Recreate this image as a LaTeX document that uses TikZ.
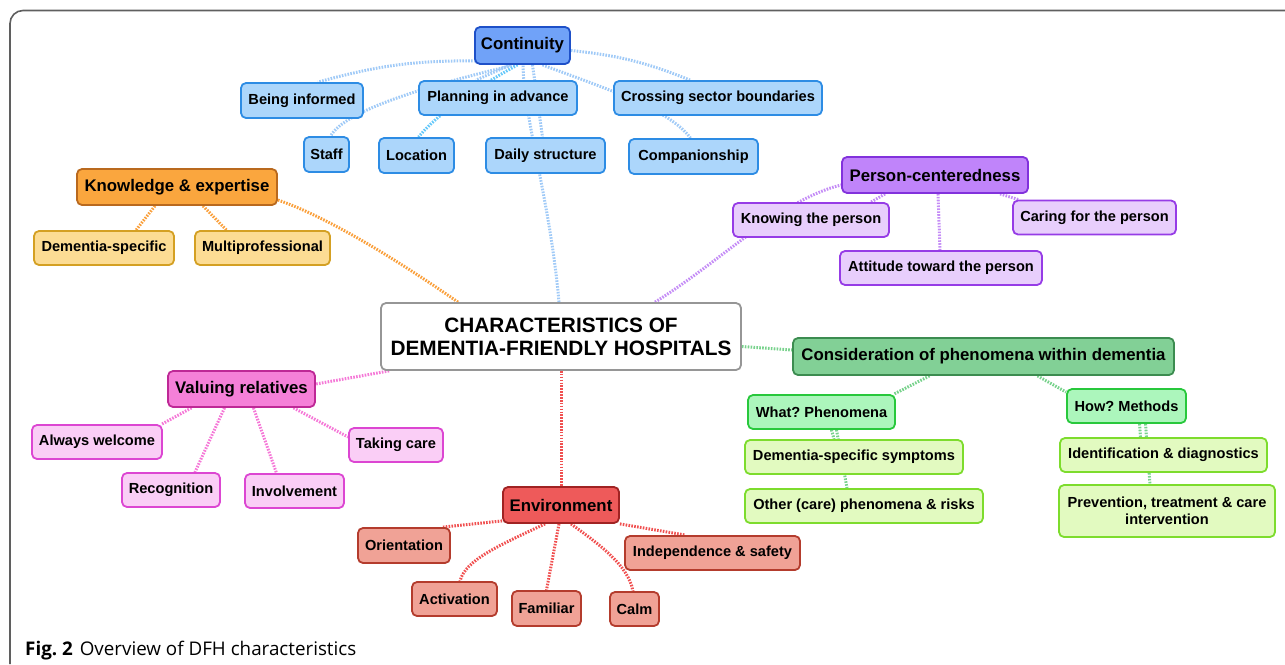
\documentclass[tikz,border=0pt]{standalone}
\usepackage{fontspec}
\setmainfont{Liberation Sans}
\newfontfamily\capfont{Open Sans}
\usetikzlibrary{calc}
\pgfdeclarelayer{bg}
\pgfsetlayers{bg,main}
\frenchspacing
% colours
\definecolor{cBf}{RGB}{112,162,248}\definecolor{cBd}{RGB}{30,80,200}
\definecolor{lBf}{RGB}{172,214,251}\definecolor{lBd}{RGB}{45,140,228}
\definecolor{kBl}{RGB}{160,202,247}\definecolor{kCy}{RGB}{100,200,250}
\definecolor{cOf}{RGB}{250,166,62}\definecolor{cOd}{RGB}{185,105,30}
\definecolor{lOf}{RGB}{252,220,148}\definecolor{lOd}{RGB}{212,160,35}
\definecolor{kOr}{RGB}{250,160,60}
\definecolor{cPf}{RGB}{192,132,250}\definecolor{cPd}{RGB}{130,50,220}
\definecolor{lPf}{RGB}{232,206,252}\definecolor{lPd}{RGB}{150,60,230}
\definecolor{kPu}{RGB}{196,140,246}
\definecolor{cGf}{RGB}{130,208,150}\definecolor{cGd}{RGB}{60,140,80}
\definecolor{mGf}{RGB}{172,246,188}\definecolor{mGd}{RGB}{40,200,60}
\definecolor{lGf}{RGB}{226,250,192}\definecolor{lGd}{RGB}{125,220,45}
\definecolor{kGr}{RGB}{120,210,140}
\definecolor{cKf}{RGB}{245,128,216}\definecolor{cKd}{RGB}{190,40,150}
\definecolor{lKf}{RGB}{250,206,246}\definecolor{lKd}{RGB}{220,70,210}
\definecolor{kPk}{RGB}{245,120,215}
\definecolor{cRf}{RGB}{238,90,90}\definecolor{cRd}{RGB}{160,35,35}
\definecolor{lRf}{RGB}{240,162,150}\definecolor{lRd}{RGB}{180,60,45}
\definecolor{kRd}{RGB}{240,80,80}
\definecolor{frame}{RGB}{95,95,95}
\definecolor{cenB}{RGB}{150,150,150}
\tikzset{
  box/.style={rounded corners=5pt, line width=1.8pt, inner xsep=2pt, inner ysep=2pt,
    align=center, text=black, font=\bfseries\fontsize{14.6}{17.5}\selectfont},
  head/.style={box, minimum height=36pt, font=\bfseries\fontsize{16.8}{20}\selectfont},
  leaf/.style={box, minimum height=34pt},
  hB/.style={head, fill=cBf, draw=cBd}, lB/.style={leaf, fill=lBf, draw=lBd},
  hO/.style={head, fill=cOf, draw=cOd}, lO/.style={leaf, fill=lOf, draw=lOd},
  hP/.style={head, fill=cPf, draw=cPd}, lP/.style={leaf, fill=lPf, draw=lPd},
  hG/.style={head, fill=cGf, draw=cGd}, mG/.style={leaf, fill=mGf, draw=mGd},
  lG/.style={leaf, fill=lGf, draw=lGd},
  hK/.style={head, fill=cKf, draw=cKd}, lK/.style={leaf, fill=lKf, draw=lKd},
  hR/.style={head, fill=cRf, draw=cRd}, lR/.style={leaf, fill=lRf, draw=lRd},
  conn/.style={line width=3pt, dash pattern=on 1.6pt off 1.3pt},
  cb/.style={conn, draw=kBl}, cy/.style={conn, draw=kCy},
  co/.style={conn, draw=kOr}, cp/.style={conn, draw=kPu},
  cg/.style={conn, draw=kGr}, ck/.style={conn, draw=kPk}, cr/.style={conn, draw=kRd}
}
\begin{document}
\begin{tikzpicture}[x=1pt,y=-1pt]
\useasboundingbox (0,0) rectangle (1285,664);
\draw[frame, line width=1.6pt, rounded corners=13pt] (10,664) -- (10,10.5) -- (1285,10.5);
\node[anchor=base west, inner sep=0pt, font=\capfont\fontsize{18.8}{22}\selectfont] (cap) at (25,655)
  {\textbf{Fig. 2}\hspace{7pt}Overview of DFH characteristics};

% central
\node[box, fill=white, draw=cenB, minimum width=360pt, minimum height=67pt,
  font=\bfseries\fontsize{20.8}{23}\selectfont] (cen) at (561,336.5)
  {CHARACTERISTICS OF\\DEMENTIA-FRIENDLY HOSPITALS};

% continuity
\node[hB, minimum width=95pt, minimum height=37pt] (cont) at (522.5,45.5) {Continuity};
\node[lB, minimum width=122pt, minimum height=35pt] (bi) at (302,100.5) {Being informed};
\node[lB, minimum width=158pt] (plan) at (498,98) {Planning in advance};
\node[lB, minimum width=208pt] (cross) at (718,98) {Crossing sector boundaries};
\node[lB, minimum width=45pt, minimum height=35pt] (staff) at (326.5,154.5) {Staff};
\node[lB, minimum width=75pt, minimum height=35pt] (loc) at (416.5,155.5) {Location};
\node[lB, minimum width=119pt, minimum height=35pt] (daily) at (545.5,155.5) {Daily structure};
\node[lB, minimum width=129pt, minimum height=35pt] (comp) at (693.5,156.5) {Companionship};

% knowledge
\node[hO, minimum width=200pt] (kn) at (177,187) {Knowledge \& expertise};
\node[lO, minimum width=140pt] (ds) at (104,248) {Dementia-specific};
\node[lO, minimum width=135pt] (mp) at (262.5,248) {Multiprofessional};

% person
\node[hP, minimum width=186pt] (pc) at (935,175) {Person-centeredness};
\node[lP, minimum width=156pt] (kp) at (811,220) {Knowing the person};
\node[lP, minimum width=163pt] (car) at (1094.5,217.5) {Caring for the person};
\node[lP, minimum width=202pt] (att) at (941,268) {Attitude toward the person};

% consideration
\node[hG, minimum width=381pt, minimum height=37pt] (cons) at (983.5,356.5) {Consideration of phenomena within dementia};
\node[mG, minimum width=147pt] (what) at (821.5,412) {What? Phenomena};
\node[lG, minimum width=218pt] (dss) at (854,457) {Dementia-specific symptoms};
\node[lG, minimum width=238pt] (oth) at (864,506) {Other (care) phenomena \& risks};
\node[mG, minimum width=119pt] (how) at (1126.5,406) {How? Methods};
\node[lG, minimum width=207pt] (idn) at (1163.5,455) {Identification \& diagnostics};
\node[lG, minimum width=216pt, minimum height=52pt] (prev) at (1167,511) {Prevention, treatment \& care\\intervention};

% valuing relatives
\node[hK, minimum width=147pt] (val) at (241.5,389) {Valuing relatives};
\node[lK, minimum width=130pt] (aw) at (97,442) {Always welcome};
\node[lK, minimum width=98pt] (rec) at (171,490) {Recognition};
\node[lK, minimum width=99pt] (inv) at (294.5,491) {Involvement};
\node[lK, minimum width=94pt] (tc) at (396,445) {Taking care};

% environment
\node[hR, minimum width=116pt] (env) at (561,505) {Environment};
\node[lR, minimum width=92pt, minimum height=35pt] (ori) at (404,545.5) {Orientation};
\node[lR, minimum width=85pt] (act) at (454.5,599) {Activation};
\node[lR, minimum width=69pt, minimum height=35pt] (fam) at (546.5,608.5) {Familiar};
\node[lR, minimum width=49pt] (calm) at (634.5,609) {Calm};
\node[lR, minimum width=175pt] (ind) at (712.5,553) {Independence \& safety};

\begin{pgfonlayer}{bg}
% continuity branch
\draw[cb] ([xshift=-2pt]cen.north) .. controls (550,200) and (524,120) .. ([xshift=0.5pt]cont.south);
\draw[cb] ([xshift=-44pt,yshift=4pt]cont.south) to[bend right=8] ([xshift=16pt]bi.north);
\draw[cb] ([xshift=-12pt]cont.south) -- ([xshift=-22pt]plan.north);
\draw[cb] ([xshift=-8pt]cont.south) .. controls (430,85) and (345,110) .. ([xshift=4pt]staff.north);
\draw[cy] ([xshift=-5pt]cont.south) .. controls (490,80) and (440,110) .. ([xshift=2pt]loc.north);
\draw[cb] ([xshift=10pt]cont.south) -- ([xshift=-3pt]daily.north);
\draw[cb] ([yshift=-5pt]cont.east) to[bend left=8] ([xshift=-28pt]cross.north);
\draw[cb] ([xshift=20pt]cont.south) .. controls (610,90) and (670,110) .. ([xshift=-3pt]comp.north);
% knowledge branch
\draw[co] ([xshift=-103pt]cen.north) .. controls (400,262) and (330,218) .. ([yshift=-13pt]kn.east);
\draw[co] ([xshift=-22pt]kn.south) -- ([xshift=32pt]ds.north);
\draw[co] ([xshift=26pt]kn.south) -- ([xshift=-36pt]mp.north);
% person branch
\draw[cp] ([xshift=94pt]cen.north) .. controls (720,262) and (780,200) .. ([yshift=-10pt]pc.west);
\draw[cp] ([xshift=-50pt]pc.south) -- ([xshift=60pt]kp.north);
\draw[cp] ([xshift=3pt]pc.south) -- ([xshift=-1pt]att.north);
\draw[cp] ([xshift=65pt]pc.south) -- ([xshift=-76pt]car.north);
% consideration branch
\draw[cg] ([yshift=-10pt]cen.east) -- ([yshift=6.5pt]cons.west);
\draw[cg] ([xshift=-54pt]cons.south) -- ([xshift=-2pt]what.north east);
\draw[cg] ([xshift=54pt]cons.south) -- ([yshift=-4pt]how.north west);
\draw[cg] ([xshift=10pt]what.south) -- ([xshift=-20pt]dss.north);
\draw[cg] ([xshift=15pt]what.south) -- ([xshift=-17pt]oth.north);
\draw[cg] ([xshift=13pt]how.south) -- ([xshift=-23pt]idn.north);
\draw[cg] ([xshift=19pt]how.south) -- ([xshift=-17pt]prev.north);
% valuing branch
\draw[ck] ([xshift=9pt]cen.south west) -- ([yshift=5pt]val.east);
\draw[ck] ([xshift=-50pt]val.south) -- ([xshift=-1pt]aw.north east);
\draw[ck] ([xshift=-17pt]val.south) -- ([xshift=24pt]rec.north);
\draw[ck] ([xshift=12pt]val.south) -- ([xshift=-18pt]inv.north);
\draw[ck] ([xshift=52pt]val.south) -- ([yshift=8pt]tc.west);
% environment branch
\draw[cr] (cen.south) -- (env.north);
\draw[cr] ([yshift=3pt]env.south west) -- ([xshift=-8pt]ori.north east);
\draw[cr] ([xshift=-16pt]env.south) .. controls (500,545) and (465,560) .. ([xshift=5.5pt]act.north);
\draw[cr] ([xshift=-2pt]env.south) -- (fam.north);
\draw[cr] ([xshift=10pt]env.south) .. controls (600,545) and (628,565) .. ([xshift=-1.5pt]calm.north);
\draw[cr] (env.south east) -- ([xshift=-27pt]ind.north);
\end{pgfonlayer}
\end{tikzpicture}
\end{document}
